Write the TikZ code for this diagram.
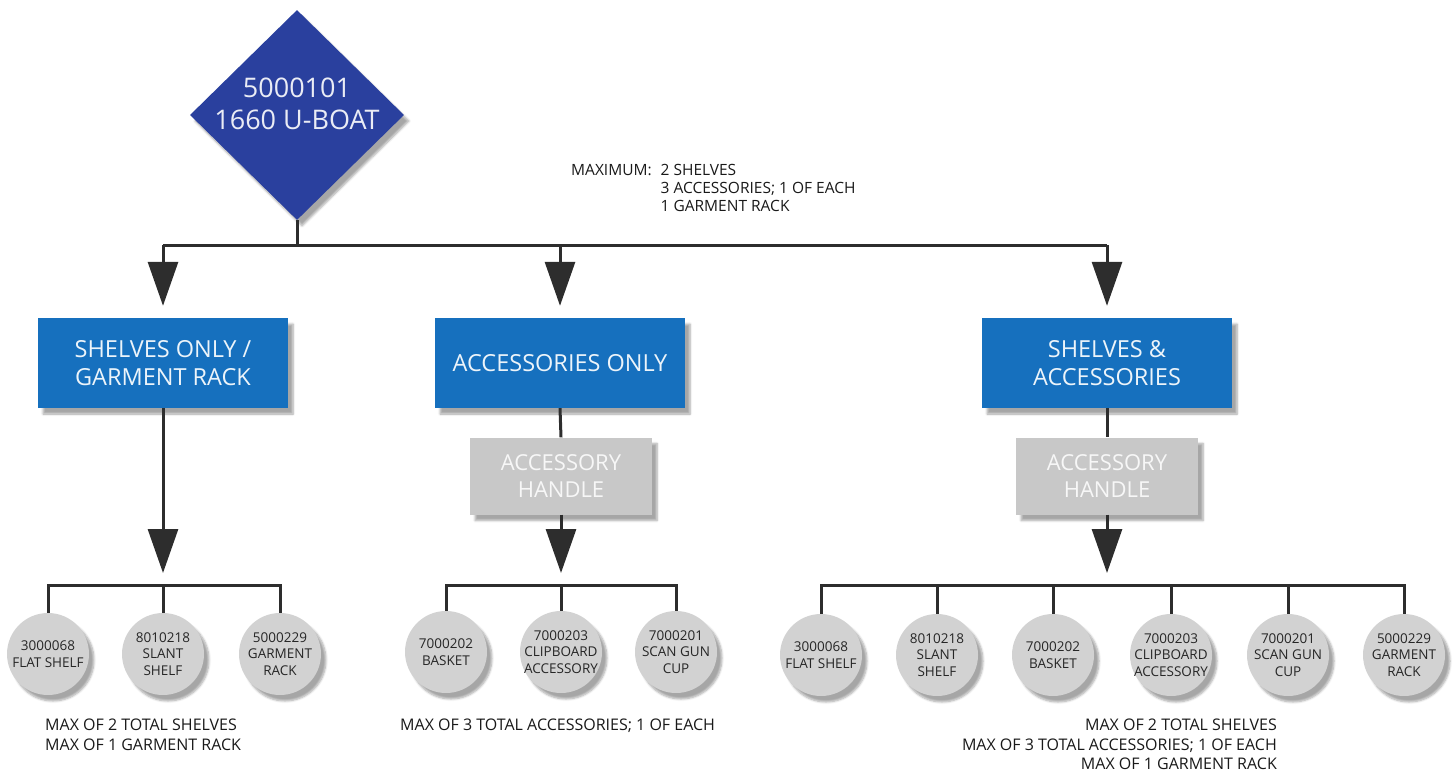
\documentclass[tikz,border=0pt]{standalone}
\usepackage{fontspec}
\setmainfont{Open Sans}
\usetikzlibrary{shapes.geometric,arrows.meta,shadows.blur}
\definecolor{boatblue}{RGB}{42,64,158}
\definecolor{groupblue}{RGB}{22,112,190}
\definecolor{handlegray}{RGB}{200,200,200}
\definecolor{partgray}{RGB}{210,210,210}
\definecolor{linegray}{RGB}{45,45,45}

\begin{document}
\begin{tikzpicture}
[
    x=1pt, y=-1pt,
    shade/.style={blur shadow={shadow xshift=5pt, shadow yshift=-6pt, shadow blur steps=6, shadow opacity=35}},
    boat/.style={diamond, fill=boatblue, text=white!90!boatblue, minimum width=214pt, minimum height=210pt, inner sep=-40pt, text depth=22pt, align=center, font=\fontsize{27}{32}\selectfont, shade},
    group/.style={rectangle, fill=groupblue, text=white!92!groupblue, minimum width=250pt, minimum height=90pt, align=center, font=\fontsize{23.5}{28}\selectfont, shade},
    handle/.style={rectangle, fill=handlegray, text=white!85!handlegray, minimum width=182pt, minimum height=77pt, align=center, font=\fontsize{22}{27}\selectfont, shade},
    part/.style={circle, fill=partgray, text=black!85, minimum size=82pt, inner sep=-8pt, align=center, font=\fontsize{13.5}{16.5}\selectfont, shade},
    note/.style={font=\fontsize{16}{19.5}\selectfont, text=black!90, inner sep=0pt},
    link/.style={draw=linegray, line width=3pt},
    arrow/.style={link, -{Triangle[length=44pt, width=30pt]}, shorten >=12pt}
]
    \useasboundingbox (0,0) rectangle (1453,773);

    % top of the tree
    \node [boat] (boat) at (297,115) {5000101\\1660 U-BOAT};
    \node [note, anchor=north west, font=\fontsize{15.5}{18}\selectfont] (maxall) at (571,163)
        {\begin{tabular}{@{}l@{\hspace{9pt}}l@{}}
            MAXIMUM: & 2 SHELVES\\
                     & 3 ACCESSORIES; 1 OF EACH\\
                     & 1 GARMENT RACK
        \end{tabular}};

    % three ways to fit it out
    \node [group] (shelves) at (163,363) {SHELVES ONLY /\\GARMENT RACK};
    \node [group] (accessories) at (560,363) {ACCESSORIES ONLY};
    \node [group] (both) at (1107,363) {SHELVES \&\\ACCESSORIES};

    \node [handle] (handleA) at (561,476) {ACCESSORY\\HANDLE};
    \node [handle] (handleB) at (1107,476) {ACCESSORY\\HANDLE};

    \coordinate (bus) at (297,245);
    \draw [link] (boat.south) -- (bus);
    \draw [link] (shelves.north |- bus) -- (both.north |- bus);
    \draw [arrow] (shelves.north |- bus) -- (shelves.north);
    \draw [arrow] (accessories.north |- bus) -- (accessories.north);
    \draw [arrow] (both.north |- bus) -- (both.north);

    \draw [link] (accessories.south) -- (handleA.north);
    \draw [link] (both.south) -- (handleB.north);

    % shelves only
    \node [part] (s1) at (48,654) {3000068\\FLAT SHELF};
    \node [part] (s2) at (163,654) {8010218\\SLANT\\SHELF};
    \node [part] (s3) at (280,654) {5000229\\GARMENT\\RACK};
    \coordinate (sbar) at (163,585);
    \draw [link] (s1.north) |- (sbar) -| (s3.north);
    \draw [link] (s2.north) -- (sbar);
    \draw [arrow] (shelves.south) -- (sbar);
    \node [note, anchor=north west, align=left] (snote) at (45,719)
        {MAX OF 2 TOTAL SHELVES\\MAX OF 1 GARMENT RACK};

    % accessories only
    \node [part] (a1) at (446,652) {7000202\\BASKET};
    \node [part] (a2) at (561,652) {7000203\\CLIPBOARD\\ACCESSORY};
    \node [part] (a3) at (676,652) {7000201\\SCAN GUN\\CUP};
    \coordinate (abar) at (561,585);
    \draw [link] (a1.north) |- (abar) -| (a3.north);
    \draw [link] (a2.north) -- (abar);
    \draw [arrow] (handleA.south) -- (abar);
    \node [note, anchor=north west] (anote) at (400,719)
        {MAX OF 3 TOTAL ACCESSORIES; 1 OF EACH};

    % shelves and accessories
    \node [part] (b1) at (821,655) {3000068\\FLAT SHELF};
    \node [part] (b2) at (937,655) {8010218\\SLANT\\SHELF};
    \node [part] (b3) at (1053,655) {7000202\\BASKET};
    \node [part] (b4) at (1171,655) {7000203\\CLIPBOARD\\ACCESSORY};
    \node [part] (b5) at (1288,655) {7000201\\SCAN GUN\\CUP};
    \node [part] (b6) at (1404,655) {5000229\\GARMENT\\RACK};
    \coordinate (bbar) at (1107,585);
    \draw [link] (b1.north) |- (bbar) -| (b6.north);
    \foreach \n in {b2,b3,b4,b5}
        \draw [link] (\n.north) -- (\n.north |- bbar);
    \draw [arrow] (handleB.south) -- (bbar);
    \node [note, anchor=north east, align=right] (bnote) at (1277,719)
        {MAX OF 2 TOTAL SHELVES\\MAX OF 3 TOTAL ACCESSORIES; 1 OF EACH\\MAX OF 1 GARMENT RACK};
\end{tikzpicture}
\end{document}
